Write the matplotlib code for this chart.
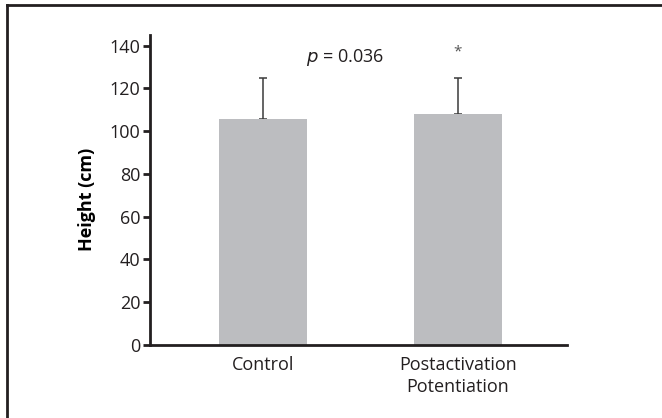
import numpy as np
import matplotlib
matplotlib.use("Agg")
import matplotlib.pyplot as plt
from matplotlib.lines import Line2D

# Данные
groups = ["Control", "Postactivation\nPotentiation"]
means = [105.5, 108]
sds = [19.5, 17]
y_ticks = [0, 20, 40, 60, 80, 100, 120, 140]

plt.rcParams['font.family'] = ['Open Sans', 'DejaVu Sans']
plt.rcParams['text.color'] = '#231f20'
plt.rcParams['xtick.labelcolor'] = '#231f20'
plt.rcParams['ytick.labelcolor'] = '#231f20'

fig = plt.figure(figsize=(6.62, 4.18), dpi=100)
ax = fig.add_axes([0.2266, 0.1746, 0.6299, 0.7417])

x = np.arange(len(groups))
ax.bar(x, means, width=0.45, color='#bcbdc0', zorder=2)
# только верхняя половина погрешности
ax.errorbar(x, means, yerr=[np.zeros(len(sds)), sds], fmt='none',
            ecolor='#3a3a3a', elinewidth=1.1, capsize=3, capthick=1.1, zorder=1)

ax.set_xlim(-0.58, 1.56)
ax.set_ylim(0, 145)
ax.set_yticks(y_ticks)
ax.set_xticks(x)
ax.set_xticklabels(groups, fontsize=13, linespacing=1.3)
ax.tick_params(axis='y', labelsize=13, length=5, width=2, color='#231f20', pad=2)
ax.tick_params(axis='x', length=0, pad=8)

for s in ['top', 'right']:
    ax.spines[s].set_visible(False)
for s in ['left', 'bottom']:
    ax.spines[s].set_linewidth(2)
    ax.spines[s].set_color('#231f20')

ax.set_ylabel('Height (cm)', fontsize=13, fontweight='bold')
ax.yaxis.set_label_coords(-0.13, 0.47)

ax.text(0.42, 134.5, r'$p$ = 0.036', fontsize=13, ha='center', va='center')
ax.text(1, 137, '*', fontsize=11, ha='center', va='center', color='#555555')

# рамка сверху и слева
fig.add_artist(Line2D([0.0105, 1.0], [0.988, 0.988], transform=fig.transFigure,
                      color='#231f20', linewidth=2))
fig.add_artist(Line2D([0.0105, 0.0105], [0.0, 0.988], transform=fig.transFigure,
                      color='#231f20', linewidth=2))

fig.savefig('out.png', dpi=100)
